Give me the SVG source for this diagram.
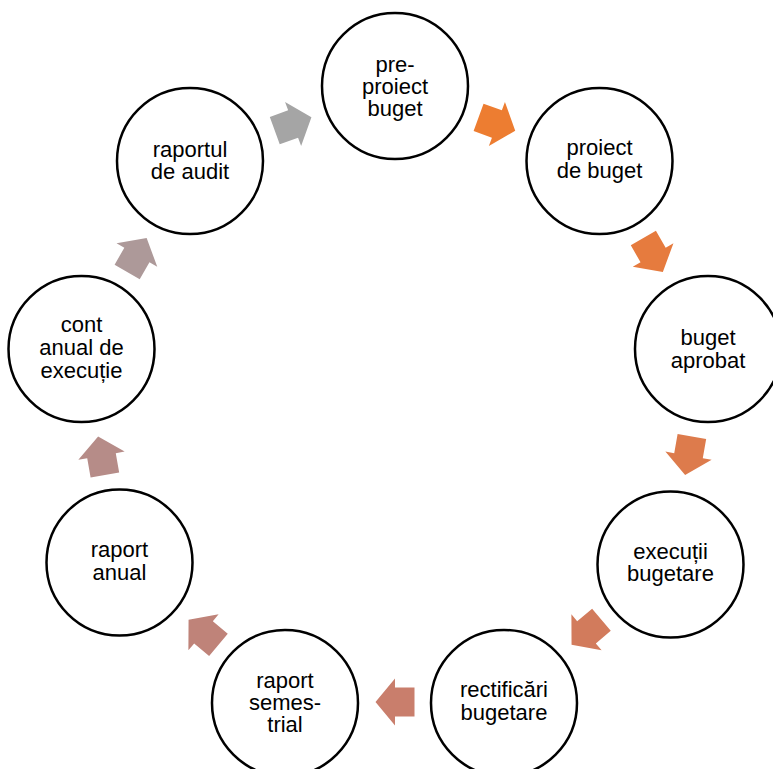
<svg xmlns="http://www.w3.org/2000/svg" xmlns:xlink="http://www.w3.org/1999/xlink" width="773" height="769" viewBox="0 0 773 769">
  <style>
    .node circle { fill: #ffffff; stroke: #000000; stroke-width: 2.5; }
    .node text { font-family: "Liberation Sans", Arial, sans-serif; font-size: 22px; fill: #000000; text-anchor: middle; }
  </style>
  <defs>
    <path id="arr" d="M-19.5,-14.5 H0 V-23.5 L19.5,0 L0,23.5 V14.5 H-19.5 Z"/>
  </defs>
  <rect width="773" height="769" fill="#ffffff"/>
  <g id="connectors">
    <use xlink:href="#arr" href="#arr" fill="#ED7D31" transform="translate(496.9,124) rotate(20)"/>
    <use xlink:href="#arr" href="#arr" fill="#E67B3E" transform="translate(653.1,255) rotate(60)"/>
    <use xlink:href="#arr" href="#arr" fill="#DD7B4C" transform="translate(688.5,455.7) rotate(100)"/>
    <use xlink:href="#arr" href="#arr" fill="#D27B5C" transform="translate(586.5,632.3) rotate(140)"/>
    <use xlink:href="#arr" href="#arr" fill="#C97E6C" transform="translate(395,702) rotate(180)"/>
    <use xlink:href="#arr" href="#arr" fill="#BF8379" transform="translate(203.5,632.3) rotate(220)"/>
    <use xlink:href="#arr" href="#arr" fill="#B68C88" transform="translate(101.5,455.7) rotate(260)"/>
    <use xlink:href="#arr" href="#arr" fill="#AD9999" transform="translate(136.9,255) rotate(300)"/>
    <use xlink:href="#arr" href="#arr" fill="#A5A5A5" transform="translate(293.1,124) rotate(340)"/>
  </g>
  <g id="n1" class="node">
    <circle cx="395" cy="86" r="73"/>
    <text x="395" y="72">pre-</text>
    <text x="395" y="94">proiect</text>
    <text x="395" y="116">buget</text>
  </g>
  <g id="n2" class="node">
    <circle cx="599.5" cy="161" r="73"/>
    <text x="599.5" y="155">proiect</text>
    <text x="599.5" y="178">de buget</text>
  </g>
  <g id="n3" class="node">
    <circle cx="708" cy="349" r="73"/>
    <text x="708" y="345">buget</text>
    <text x="708" y="367.5">aprobat</text>
  </g>
  <g id="n4" class="node">
    <circle cx="670.5" cy="564.5" r="73"/>
    <text x="670.5" y="558.5">execuții</text>
    <text x="670.5" y="581">bugetare</text>
  </g>
  <g id="n5" class="node">
    <circle cx="504" cy="703" r="73"/>
    <text x="504" y="697">rectificări</text>
    <text x="504" y="719.5">bugetare</text>
  </g>
  <g id="n6" class="node">
    <circle cx="285" cy="703" r="73"/>
    <text x="285" y="687.5">raport</text>
    <text x="285" y="710">semes-</text>
    <text x="285" y="732">trial</text>
  </g>
  <g id="n7" class="node">
    <circle cx="119.5" cy="562.5" r="73"/>
    <text x="119.5" y="557">raport</text>
    <text x="119.5" y="580">anual</text>
  </g>
  <g id="n8" class="node">
    <circle cx="81.5" cy="349" r="73"/>
    <text x="81.5" y="332">cont</text>
    <text x="81.5" y="355">anual de</text>
    <text x="81.5" y="377.5">execuție</text>
  </g>
  <g id="n9" class="node">
    <circle cx="190" cy="161" r="73"/>
    <text x="190" y="157">raportul</text>
    <text x="190" y="179">de audit</text>
  </g>
</svg>
